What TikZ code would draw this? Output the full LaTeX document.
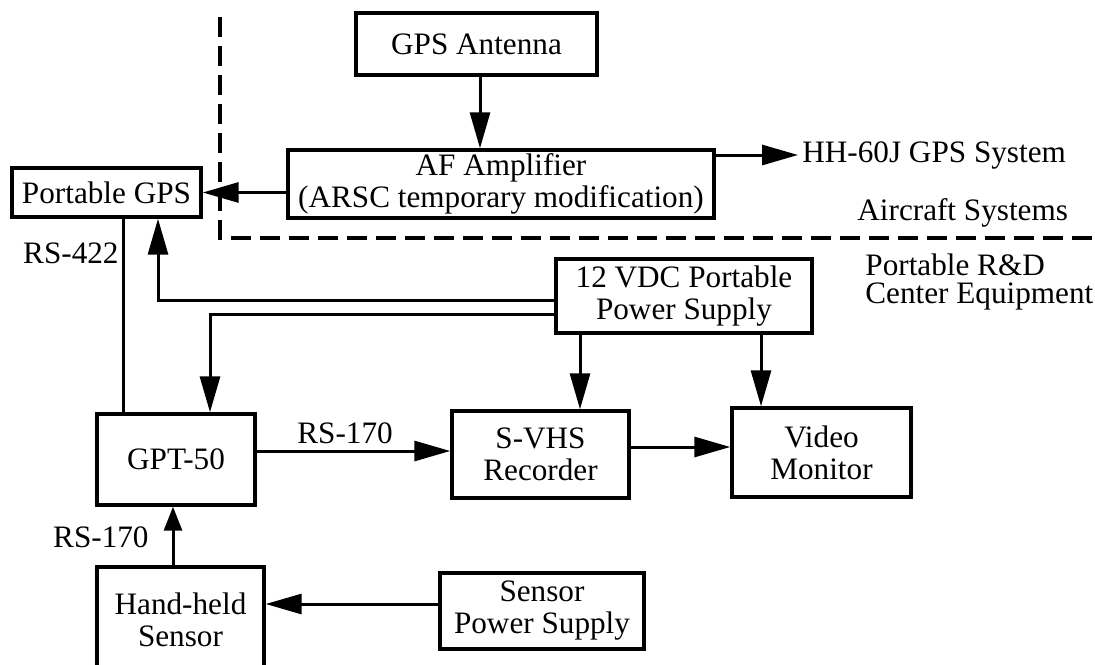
\documentclass[tikz,border=0pt]{standalone}
\usepackage{fontspec}
\setmainfont{Liberation Serif}
\usetikzlibrary{arrows.meta}
\begin{document}
\begin{tikzpicture}[x=0.5pt,y=-0.5pt,
  box/.style={draw, line width=1.7pt, inner sep=0pt, align=center, font=\fontsize{15.6pt}{16pt}\selectfont},
  lbl/.style={inner sep=0pt, font=\fontsize{15.6pt}{16pt}\selectfont},
  conn/.style={line width=1.5pt},
  arr/.style={conn, -{Triangle[length=18pt,width=10pt]}},
  sarr/.style={conn, -{Triangle[length=12pt,width=9pt]}},
  bound/.style={line width=1.6pt, dash pattern=on 10pt off 4.5pt}]
\path[use as bounding box] (0,0) rectangle (1095,664);
\clip (0,0) rectangle (1095,664);

% boxes
\node[box, minimum width=120.5pt, minimum height=31pt] (ant) at (476.5,44) {GPS Antenna};
\node[box, minimum width=213pt, minimum height=34pt] (amp) at (501,184) {AF Amplifier\\(ARSC temporary modification)};
\node[box, minimum width=94.5pt, minimum height=24.5pt] (pgps) at (106.5,192.5) {Portable GPS};
\node[box, minimum width=128pt, minimum height=37pt] (ps) at (684,296) {12 VDC Portable\\Power Supply};
\node[box, minimum width=79pt, minimum height=45.5pt] (gpt) at (176,459.5) {GPT-50};
\node[box, minimum width=88.5pt, minimum height=43.5pt] (svhs) at (540.5,454.5) {S-VHS\\Recorder};
\node[box, minimum width=89.5pt, minimum height=44.5pt] (vid) at (821.5,452.5) {Video\\Monitor};
\node[box, minimum width=83.5pt, minimum height=53pt] (hand) at (180.5,620) {Hand-held\\Sensor};
\node[box, minimum width=102pt, minimum height=38pt] (sps) at (542,611) {Sensor\\Power Supply};

% labels
\node[lbl, anchor=west] (hh) at (802,155) {HH-60J GPS System};
\node[lbl, anchor=base west] (acs) at (857,220) {Aircraft Systems};
\node[lbl, anchor=base west] (prd1) at (865,275) {Portable R\&D};
\node[lbl, anchor=base west] (prd2) at (865,303) {Center Equipment};
\node[lbl, anchor=base east] (rs422) at (119,263) {RS-422};
\node[lbl, anchor=base west] (rs170a) at (297,443) {RS-170};
\node[lbl, anchor=base east] (rs170b) at (149,547) {RS-170};

% boundary
\draw[bound] (220,17) -- (220,238) -- (1095,238);

% connectors
\draw[arr] (480,0 |- ant.south) -- (480,0 |- amp.north);
\draw[arr] (amp.east |- hh.west) -- ([xshift=-2pt]hh.west);
\draw[arr] (amp.west |- pgps.east) -- (pgps.east);
\draw[conn] (123,0 |- pgps.south) -- (123,0 |- gpt.north);
\draw[arr] (ps.west |- 0,300) -| (158,0 |- pgps.south);
\draw[arr] (ps.west |- 0,314) -| (210,0 |- gpt.north);
\draw[arr] (580,0 |- ps.south) -- (580,0 |- svhs.north);
\draw[arr] (761,0 |- ps.south) -- (761,0 |- vid.north);
\draw[arr] (gpt.east |- 0,451) -- (svhs.west |- 0,451);
\draw[arr] (svhs.east |- 0,447) -- (vid.west |- 0,447);
\draw[sarr] (173,0 |- hand.north) -- (173,0 |- gpt.south);
\draw[arr] (sps.west |- 0,604) -- (hand.east |- 0,604);
\end{tikzpicture}
\end{document}
